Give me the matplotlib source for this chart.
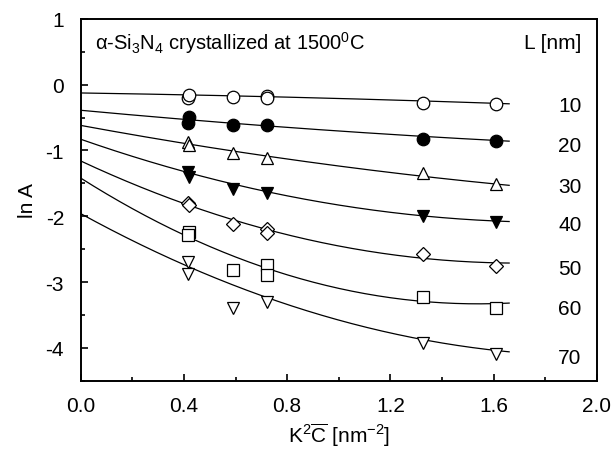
import numpy as np
import matplotlib
matplotlib.use('Agg')
import matplotlib.pyplot as plt
from matplotlib.ticker import MultipleLocator

plt.rcParams.update({'font.family': 'Liberation Sans',
                     'mathtext.fontset': 'custom',
                     'mathtext.rm': 'Liberation Sans',
                     'mathtext.it': 'Liberation Sans:italic',
                     'axes.unicode_minus': False,
                     'font.size': 14})

# measured points, one list pair per grain size L
L_vals = [10, 20, 30, 40, 50, 60, 70]
x_10 = [0.415, 0.42, 0.59, 0.72, 0.72, 1.326, 1.61]
y_10 = [-0.20, -0.16, -0.19, -0.17, -0.21, -0.28, -0.30]
x_20 = [0.42, 0.415, 0.59, 0.72, 1.326, 1.61]
y_20 = [-0.49, -0.58, -0.61, -0.62, -0.82, -0.85]
x_30 = [0.415, 0.42, 0.59, 0.72, 1.326, 1.61]
y_30 = [-0.87, -0.92, -1.04, -1.12, -1.34, -1.51]
x_40 = [0.415, 0.42, 0.59, 0.72, 1.326, 1.61]
y_40 = [-1.33, -1.40, -1.59, -1.64, -2.00, -2.09]
x_50 = [0.415, 0.42, 0.59, 0.72, 0.72, 1.326, 1.61]
y_50 = [-1.80, -1.83, -2.12, -2.19, -2.25, -2.58, -2.75]
x_60 = [0.42, 0.415, 0.59, 0.72, 0.72, 1.326, 1.61]
y_60 = [-2.24, -2.28, -2.82, -2.74, -2.90, -3.22, -3.39]
x_70 = [0.415, 0.415, 0.59, 0.72, 1.326, 1.61]
y_70 = [-2.70, -2.88, -3.40, -3.30, -3.92, -4.10]

# quadratic fit coefficients (c0, c1, c2)
fit_c0 = [-0.127, -0.39, -0.62, -0.83, -1.16, -1.42, -1.96]
fit_c1 = [-0.061, -0.364, -0.721, -1.374, -1.834, -2.482, -2.153]
fit_c2 = [-0.023, 0.049, 0.104, 0.374, 0.542, 0.806, 0.535]
fit_xmax = 1.66

# label positions for the L column
label_y = [-0.32, -0.92, -1.55, -2.12, -2.79, -3.40, -4.15]

xs = [x_10, x_20, x_30, x_40, x_50, x_60, x_70]
ys = [y_10, y_20, y_30, y_40, y_50, y_60, y_70]
markers = ['o', 'o', '^', 'v', 'D', 's', 'v']
filled = [False, True, False, True, False, False, False]
msizes = [9, 9, 9, 9, 7.5, 8.5, 9]

fig = plt.figure(figsize=(6.16, 4.6), dpi=100)
ax = fig.add_axes([0.131, 0.170, 0.838, 0.787])

xx = np.linspace(0, fit_xmax, 200)
for i in range(len(L_vals)):
    yy = fit_c0[i] + fit_c1[i]*xx + fit_c2[i]*xx**2
    ax.plot(xx, yy, color='black', lw=0.9, zorder=2)
    ax.plot(xs[i], ys[i], linestyle='none', marker=markers[i], ms=msizes[i],
            mfc='black' if filled[i] else 'white', mec='black', mew=0.9, zorder=3)
    ax.text(1.94, label_y[i], str(L_vals[i]), ha='right', va='center', fontsize=15)

ax.text(0.055, 0.64, 'α-Si$_3$N$_4$ crystallized at 1500$^0$C', ha='left', va='center', fontsize=14.5)
ax.text(1.94, 0.64, 'L [nm]', ha='right', va='center', fontsize=15)

ax.set_xlim(0, 2.0)
ax.set_ylim(-4.5, 1)
ax.xaxis.set_major_locator(MultipleLocator(0.4))
ax.xaxis.set_minor_locator(MultipleLocator(0.2))
ax.yaxis.set_major_locator(MultipleLocator(1))
ax.yaxis.set_minor_locator(MultipleLocator(0.5))
ax.xaxis.set_major_formatter(matplotlib.ticker.FormatStrFormatter('%.1f'))
ax.tick_params(which='both', direction='in', top=False, right=False, labelsize=15, width=1.2)
ax.tick_params(which='major', length=5)
ax.tick_params(which='minor', length=3)
ax.tick_params(axis='x', which='major', pad=11)
ax.tick_params(axis='y', which='major', pad=12)
for s in ax.spines.values():
    s.set_linewidth(1.4)

ax.set_xlabel(r'K$^2\overline{\mathrm{C}}$ [nm$^{-2}$]', fontsize=15, labelpad=4)
ax.set_ylabel('ln A', fontsize=15, labelpad=6)

fig.savefig('out.png', dpi=100, facecolor='white')
